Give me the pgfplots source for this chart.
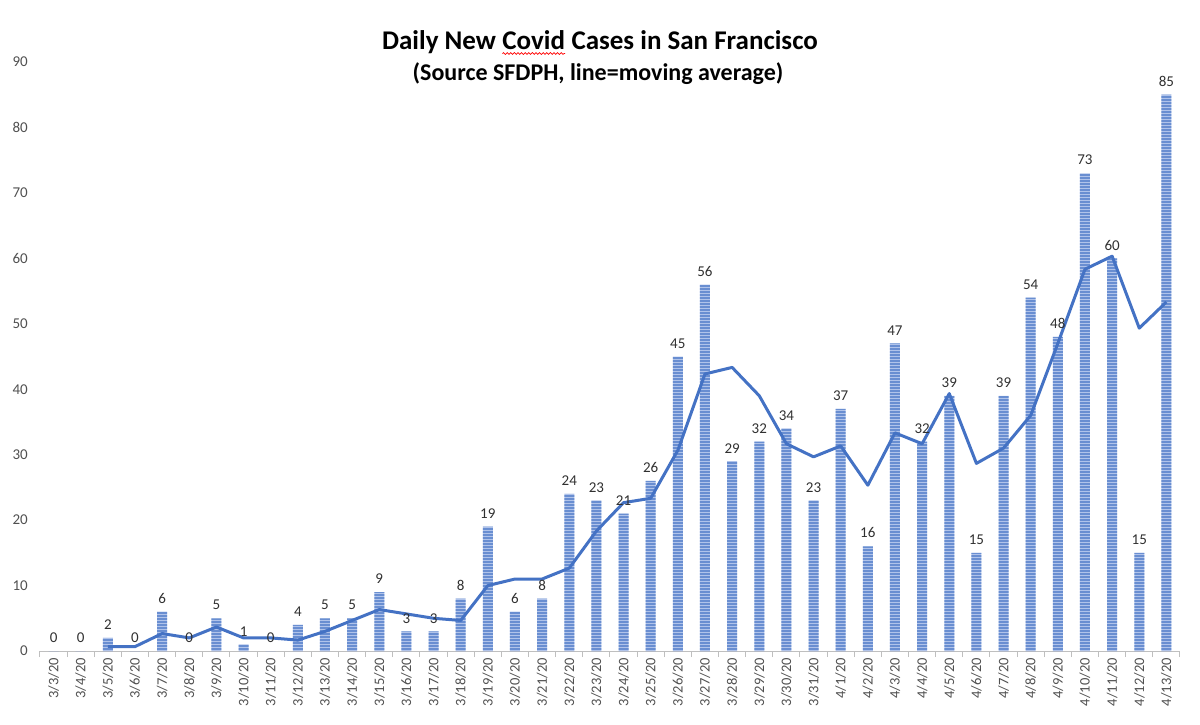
\documentclass[border=0pt]{standalone}
\usepackage{pgfplots}
\pgfplotsset{compat=1.18}
\usepackage{pgfplotstable}
\usepackage{fontspec}
\setmainfont{Carlito}
\usetikzlibrary{patterns,decorations.pathmorphing}
\definecolor{barblue}{HTML}{4472C4}
\definecolor{gapblue}{HTML}{B0C3EA}
\definecolor{tickgray}{HTML}{505050}
\definecolor{axisgray}{HTML}{BFBFBF}
\definecolor{lblgray}{HTML}{303030}
\pgfdeclarepatternformonly{hstripes}{\pgfpoint{0pt}{0pt}}{\pgfpoint{1pt}{3pt}}{\pgfpoint{1pt}{3pt}}{\pgfpathrectangle{\pgfpoint{0pt}{0pt}}{\pgfpoint{1pt}{2.4pt}}\pgfusepath{fill}}
\newcommand{\spellerr}[1]{\tikz[baseline=(w.base)]{\node[inner sep=0pt,outer sep=0pt,anchor=base] (w) at (0,0) {#1};\draw[red,line width=0.7pt,decorate,decoration={snake,amplitude=0.9pt,segment length=3.6pt}] ([yshift=-3.5pt]w.base west) -- ([yshift=-3.5pt]w.base east);}}
\pgfplotstableread{
x v ma
0 0 nan
1 0 nan
2 2 0.667
3 0 0.667
4 6 2.667
5 0 2
6 5 3.667
7 1 2
8 0 2
9 4 1.667
10 5 3
11 5 4.667
12 9 6.333
13 3 5.667
14 3 5
15 8 4.667
16 19 10
17 6 11
18 8 11
19 24 12.667
20 23 18.333
21 21 22.667
22 26 23.333
23 45 30.667
24 56 42.333
25 29 43.333
26 32 39
27 34 31.667
28 23 29.667
29 37 31.333
30 16 25.333
31 47 33.333
32 32 31.667
33 39 39.333
34 15 28.667
35 39 31
36 54 36
37 48 47
38 73 58.333
39 60 60.333
40 15 49.333
41 85 53.333
}\data
\begin{document}
\begin{tikzpicture}
\path[use as bounding box] (-40pt,-73pt) rectangle (1160pt,651pt);
\begin{axis}[
  scale only axis, width=1140pt, height=589pt,
  xmin=-0.5, xmax=41.5, ymin=0, ymax=90,
  clip=false,
  axis x line*=bottom, axis y line*=left,
  y axis line style={draw=none},
  x axis line style={axisgray, line width=1pt},
  xtick={0,...,41},
  xticklabels={3/3/20,3/4/20,3/5/20,3/6/20,3/7/20,3/8/20,3/9/20,3/10/20,3/11/20,3/12/20,3/13/20,3/14/20,3/15/20,3/16/20,3/17/20,3/18/20,3/19/20,3/20/20,3/21/20,3/22/20,3/23/20,3/24/20,3/25/20,3/26/20,3/27/20,3/28/20,3/29/20,3/30/20,3/31/20,4/1/20,4/2/20,4/3/20,4/4/20,4/5/20,4/6/20,4/7/20,4/8/20,4/9/20,4/10/20,4/11/20,4/12/20,4/13/20},
  minor xtick={-0.5,0.5,...,41.5},
  major tick length=0pt,
  minor tick length=6pt,
  tick align=outside,
  major x tick style={draw=none},
  minor x tick style={axisgray, line width=1pt},
  ytick={0,10,...,90},
  ytick style={draw=none},
  x tick label style={inner sep=0pt, yshift=-7pt, rotate=90, anchor=east, font=\fontsize{14.5}{14.5}\selectfont, text=tickgray},
  y tick label style={inner sep=0pt, xshift=-12pt, anchor=east, font=\fontsize{15}{15}\selectfont, text=tickgray},
  /pgf/number format/assume math mode=true,
]
\addplot[ybar, bar width=10pt, draw=none, fill=gapblue,
  postaction={pattern=hstripes, pattern color=barblue},
  nodes near coords,
  nodes near coords style={font=\fontsize{15}{15}\selectfont, text=lblgray, inner sep=0pt, anchor=south, yshift=8pt}]
  table[x=x,y=v]{\data};
\addplot[barblue, line width=3pt, line join=round, mark=none] table[x=x,y=ma]{\data};
\end{axis}
\node[anchor=base, font=\bfseries\fontsize{27}{27}\selectfont] at (560pt,601pt) {Daily New \spellerr{Covid} Cases in San Francisco};
\node[anchor=base, font=\bfseries\fontsize{24}{24}\selectfont] at (558pt,570pt) {(Source SFDPH, line=moving average)};
\end{tikzpicture}
\end{document}
